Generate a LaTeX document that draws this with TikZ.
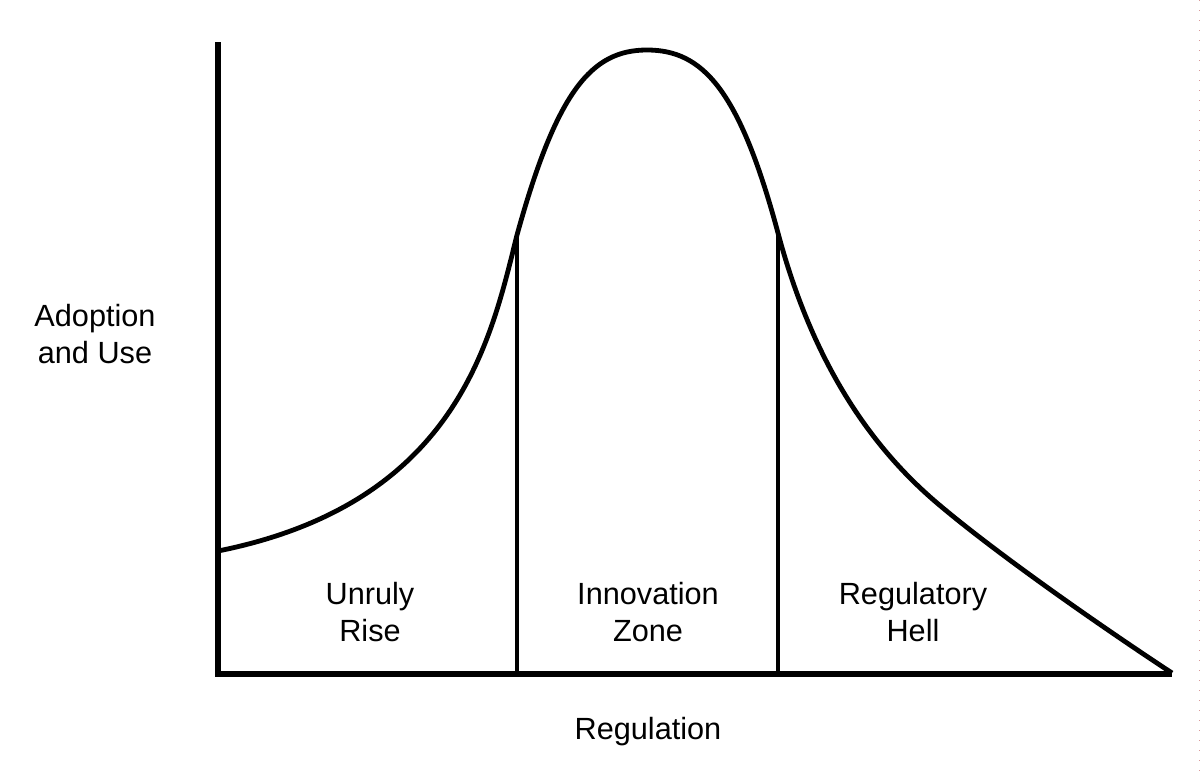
\documentclass[tikz,border=0pt]{standalone}
\usepackage{fontspec}
\setmainfont{Liberation Sans}
\begin{document}
\begin{tikzpicture}[x=0.75pt,y=-0.75pt,
  axisline/.style={line width=3.9pt, line join=miter},
  curveline/.style={line width=3.6pt, line join=round},
  divline/.style={line width=3.6pt},
  lbl/.style={inner sep=0pt, align=center, font=\fontsize{23}{27.5}\selectfont}]
\useasboundingbox (0,0) rectangle (1200,779);
% coordinates
\coordinate (ytop) at (218,42);
\coordinate (O) at (218,674);
\coordinate (xend) at (1172,674);
\coordinate (c0) at (218,551);
\coordinate (peak) at (647,50);
\coordinate (tail) at (937,503);
\coordinate (cend) at (1172,673);
\coordinate (dLtop) at (517,235);
\coordinate (dLbot) at (517,674);
\coordinate (dRtop) at (778,233);
\coordinate (dRbot) at (778,674);
\coordinate (edgeT) at (1199,0);
\coordinate (edgeB) at (1199,779);
% faint page edge
\draw[draw=black!35!red!40, line width=0.6pt, dash pattern=on 0.8pt off 6.7pt] (edgeT) -- (edgeB);
% axes
\draw[axisline] (ytop) -- (O) -- (xend);
% curve
\draw[curveline] (c0)
  .. controls (458,503) and (491,339) .. (dLtop)
  .. controls (557,90) and (592,50) .. (peak)
  .. controls (702,50) and (739,88) .. (dRtop)
  .. controls (809,349) and (860.8,438.2) .. (tail)
  .. controls (998,554.8) and (1105,629) .. (cend);
% dividers
\draw[divline] (dLtop) -- (dLbot);
\draw[divline] (dRtop) -- (dRbot);
% labels
\node[lbl] (ylab) at (95,334) {Adoption\\and Use};
\node[lbl] (unruly) at (370,612) {Unruly\\Rise};
\node[lbl] (innov) at (648,612) {Innovation\\Zone};
\node[lbl] (hell) at (913,612) {Regulatory\\Hell};
\node[lbl] (xlab) at (648,732) {Regulation};
\end{tikzpicture}
\end{document}
